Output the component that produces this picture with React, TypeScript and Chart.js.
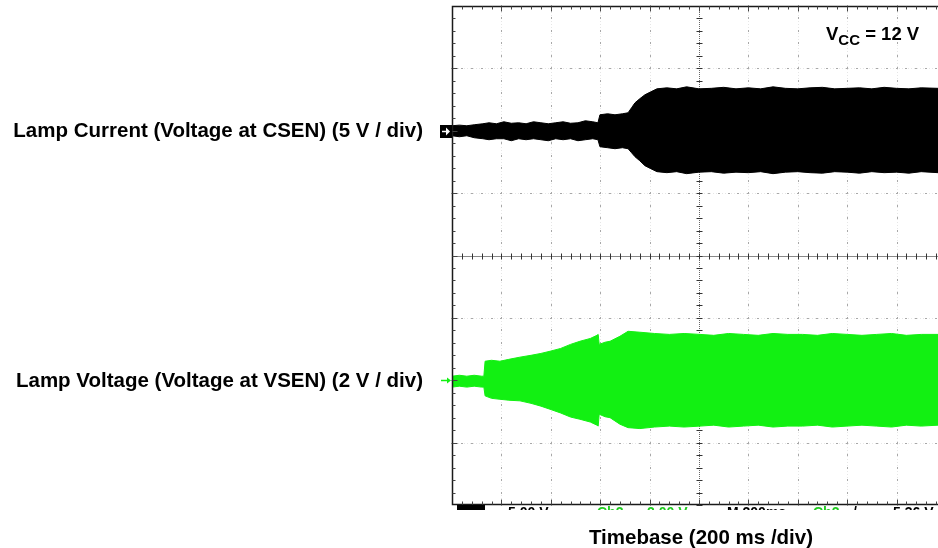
import React, { useEffect, useRef } from "react";
import { Chart, registerables } from "chart.js";

Chart.register(...registerables);

// ---- Data (time in ms, channel amplitudes in volts) ----
const X_MAX_MS = 1968; // visible part of the 2000 ms (10 div x 200 ms) screen
const MS_PER_DIV = 200;
const CH1_V_PER_DIV = 5;
const CH2_V_PER_DIV = 2;
const CH1_OFFSET_DIV = 2;
const CH2_OFFSET_DIV = -2;

const ch1Time = [
  0, 30, 60, 90, 125, 150, 180, 210, 240, 270, 300, 330, 360, 390, 420, 450, 480, 510, 540, 570,
  591, 599, 630, 660, 690, 713, 727, 741, 760, 781, 805, 830,
  870, 910, 950, 1000, 1050, 1100, 1150, 1200, 1250, 1300, 1350, 1400, 1450, 1500, 1550, 1600,
  1650, 1700, 1750, 1800, 1850, 1900, 1968,
];
const ch1Upper = [
  0.4, 0.45, 0.4, 0.48, 0.56, 0.64, 0.56, 0.72, 0.6, 0.64, 0.56, 0.72, 0.64, 0.56, 0.64, 0.72, 0.6, 0.64, 0.8, 0.72,
  0.64, 1.28, 1.36, 1.28, 1.36, 1.44, 1.84, 2.24, 2.56, 2.88, 3.12, 3.36,
  3.44, 3.36, 3.52, 3.36, 3.4, 3.48, 3.36, 3.44, 3.36, 3.52, 3.4, 3.36, 3.44, 3.48, 3.36, 3.4,
  3.44, 3.36, 3.48, 3.4, 3.36, 3.44, 3.4,
];
const ch1Lower = [
  -0.4, -0.48, -0.4, -0.56, -0.64, -0.72, -0.64, -0.64, -0.8, -0.64, -0.72, -0.64, -0.72, -0.8, -0.64, -0.72, -0.64, -0.8, -0.72, -0.64,
  -0.72, -1.28, -1.36, -1.44, -1.36, -1.44, -1.76, -2.08, -2.4, -2.8, -3.04, -3.28,
  -3.36, -3.28, -3.44, -3.32, -3.28, -3.4, -3.32, -3.36, -3.28, -3.44, -3.32, -3.28, -3.36, -3.4, -3.28, -3.32,
  -3.4, -3.28, -3.36, -3.32, -3.4, -3.28, -3.36,
];

const ch2Time = [
  0, 30, 60, 90, 120, 129, 134, 160, 194, 230, 275, 320, 360, 397, 440, 480, 518, 560, 587, 592,
  596, 620, 640, 680, 713, 761, 820, 880, 940, 1004, 1060, 1120, 1180, 1240, 1300, 1360, 1420, 1480,
  1540, 1600, 1660, 1720, 1780, 1840, 1900, 1968,
];
const ch2Upper = [
  0.13, 0.16, 0.13, 0.16, 0.13, 0.13, 0.61, 0.64, 0.61, 0.67, 0.74, 0.8, 0.86, 0.93, 1.02, 1.15, 1.25, 1.34, 1.44, 1.47,
  1.15, 1.22, 1.25, 1.41, 1.57, 1.54, 1.5, 1.47, 1.5, 1.47, 1.44, 1.5, 1.47, 1.44, 1.5, 1.47, 1.47, 1.44,
  1.5, 1.47, 1.44, 1.47, 1.5, 1.44, 1.47, 1.47,
];
const ch2Lower = [
  -0.22, -0.19, -0.22, -0.19, -0.22, -0.22, -0.5, -0.58, -0.61, -0.64, -0.66, -0.74, -0.83, -0.93, -1.05, -1.18, -1.25, -1.34, -1.44, -1.47,
  -1.09, -1.17, -1.2, -1.41, -1.52, -1.55, -1.5, -1.47, -1.5, -1.47, -1.44, -1.5, -1.47, -1.44, -1.5, -1.47, -1.47, -1.44,
  -1.5, -1.47, -1.44, -1.47, -1.5, -1.44, -1.47, -1.44,
];

const ch1Label = "Lamp Current (Voltage at CSEN) (5 V / div)";
const ch2Label = "Lamp Voltage (Voltage at VSEN) (2 V / div)";
const xLabel = "Timebase (200 ms /div)";
const vccMain = "V";
const vccSub = "CC";
const vccRest = " = 12 V";
const statusTexts = [
  { text: "5.00 V", color: "#000" },
  { text: "Ch2", color: "#2c2" },
  { text: "2.00 V", color: "#2c2" },
  { text: "M 200ms", color: "#000" },
  { text: "Ch2", color: "#2c2" },
  { text: "/", color: "#000" },
  { text: "5.36 V", color: "#000" },
];

const BLACK = "#000000";
const GREEN = "#12f012";
const FONT = '"Liberation Sans", Arial, Helvetica, sans-serif';

const toPts = (t: number[], v: number[], vpd: number, off: number) =>
  t.map((x, i) => ({ x, y: off + v[i] / vpd }));

const graticule = {
  id: "graticule",
  beforeDatasetsDraw(chart: any) {
    const { ctx, chartArea: a, scales } = chart;
    const xs = scales.x, ys = scales.y;
    const px = (d: number) => xs.getPixelForValue(d * MS_PER_DIV);
    const py = (d: number) => ys.getPixelForValue(d);
    ctx.save();
    // faint grid lines
    ctx.strokeStyle = "#e6e6e6";
    ctx.lineWidth = 1;
    ctx.setLineDash([1, 2]);
    for (let d = 1; d <= 9; d++) {
      if (d === 5) continue;
      const x = Math.round(px(d)) + 0.5;
      if (x > a.right) continue;
      ctx.beginPath(); ctx.moveTo(x, a.top); ctx.lineTo(x, a.bottom); ctx.stroke();
    }
    for (let d = -3; d <= 3; d++) {
      if (d === 0) continue;
      const y = Math.round(py(d)) + 0.5;
      ctx.beginPath(); ctx.moveTo(a.left, y); ctx.lineTo(a.right, y); ctx.stroke();
    }
    ctx.setLineDash([]);
    // dots on grid lines at every 1/5 division
    ctx.fillStyle = "#a8a8a8";
    for (let d = 1; d <= 9; d++) {
      if (d === 5) continue;
      const x = Math.round(px(d));
      for (let k = -20; k <= 20; k++) {
        const y = Math.round(py(k / 5));
        ctx.fillRect(x, y - 1, 1, 2);
      }
    }
    for (let d = -3; d <= 3; d++) {
      if (d === 0) continue;
      const y = Math.round(py(d));
      for (let k = 0; k <= 50; k++) {
        const x = Math.round(px(k / 5));
        if (x > a.right) continue;
        ctx.fillRect(x - 1, y, 2, 1);
      }
    }
    // center cross
    const cx = Math.round(px(5)) + 0.5;
    const cy = Math.round(py(0)) + 0.5;
    ctx.strokeStyle = "#666";
    ctx.setLineDash([1, 1]);
    ctx.beginPath(); ctx.moveTo(cx, a.top); ctx.lineTo(cx, a.bottom); ctx.stroke();
    ctx.strokeStyle = "#888";
    ctx.setLineDash([]);
    ctx.beginPath(); ctx.moveTo(a.left, cy); ctx.lineTo(a.right, cy); ctx.stroke();
    ctx.strokeStyle = "#333";
    for (let k = 0; k <= 50; k++) {
      const x = Math.round(px(k / 5)) + 0.5;
      if (x > a.right) continue;
      ctx.beginPath(); ctx.moveTo(x, cy - 3); ctx.lineTo(x, cy + 3); ctx.stroke();
    }
    for (let k = -20; k <= 20; k++) {
      const y = Math.round(py(k / 5)) + 0.5;
      ctx.beginPath(); ctx.moveTo(cx - 3, y); ctx.lineTo(cx + 3, y); ctx.stroke();
    }
    ctx.restore();
  },
  afterDatasetsDraw(chart: any) {
    const { ctx, chartArea: a, scales } = chart;
    const xs = scales.x, ys = scales.y;
    const px = (d: number) => xs.getPixelForValue(d * MS_PER_DIV);
    const py = (d: number) => ys.getPixelForValue(d);
    ctx.save();
    // border (left, top, bottom) with minor ticks
    ctx.strokeStyle = "#1a1a1a";
    ctx.lineWidth = 1.5;
    const L = Math.round(a.left) + 0.5, T = Math.round(a.top) + 0.5, B = Math.round(a.bottom) - 0.5;
    ctx.beginPath();
    ctx.moveTo(a.right + 1, T); ctx.lineTo(L, T); ctx.lineTo(L, B); ctx.lineTo(a.right + 1, B);
    ctx.stroke();
    ctx.lineWidth = 1;
    ctx.strokeStyle = "#444";
    for (let k = 1; k <= 50; k++) {
      const x = Math.round(px(k / 5)) + 0.5;
      if (x > a.right) continue;
      const len = k % 5 === 0 ? 5 : 3;
      ctx.beginPath(); ctx.moveTo(x, T); ctx.lineTo(x, T + len); ctx.stroke();
      ctx.beginPath(); ctx.moveTo(x, B); ctx.lineTo(x, B - len); ctx.stroke();
    }
    for (let k = -19; k <= 19; k++) {
      const y = Math.round(py(k / 5)) + 0.5;
      const len = k % 5 === 0 ? 5 : 3;
      ctx.beginPath(); ctx.moveTo(L, y); ctx.lineTo(L + len, y); ctx.stroke();
    }
    ctx.restore();
  },
  afterDraw(chart: any) {
    const { ctx, chartArea: a, scales } = chart;
    const ys = scales.y;
    const y1 = ys.getPixelForValue(CH1_OFFSET_DIV);
    const y2 = ys.getPixelForValue(CH2_OFFSET_DIV);
    ctx.save();
    // channel markers
    ctx.fillStyle = BLACK;
    ctx.fillRect(a.left - 12, Math.round(y1) - 6, 12, 13);
    ctx.strokeStyle = "#fff";
    ctx.fillStyle = "#fff";
    ctx.lineWidth = 1.5;
    ctx.beginPath(); ctx.moveTo(a.left - 10, Math.round(y1) + 0.5); ctx.lineTo(a.left - 4, Math.round(y1) + 0.5); ctx.stroke();
    ctx.beginPath(); ctx.moveTo(a.left - 2, Math.round(y1) + 0.5); ctx.lineTo(a.left - 6, Math.round(y1) - 3.5); ctx.lineTo(a.left - 6, Math.round(y1) + 4.5); ctx.closePath(); ctx.fill();
    ctx.strokeStyle = GREEN;
    ctx.fillStyle = GREEN;
    ctx.lineWidth = 1.5;
    ctx.beginPath(); ctx.moveTo(a.left - 11, Math.round(y2) + 0.5); ctx.lineTo(a.left - 3, Math.round(y2) + 0.5); ctx.stroke();
    ctx.beginPath(); ctx.moveTo(a.left - 1, Math.round(y2) + 0.5); ctx.lineTo(a.left - 5, Math.round(y2) - 2.5); ctx.lineTo(a.left - 5, Math.round(y2) + 3.5); ctx.closePath(); ctx.fill();

    // labels
    ctx.fillStyle = "#000";
    ctx.font = `bold 20.5px ${FONT}`;
    ctx.textAlign = "right";
    ctx.textBaseline = "middle";
    ctx.fillText(ch1Label, a.left - 29, y1 + 1);
    ctx.fillText(ch2Label, a.left - 29, y2 + 1);
    ctx.textAlign = "center";
    ctx.fillText(xLabel, 701, 538);

    // Vcc annotation
    ctx.textAlign = "left";
    ctx.textBaseline = "alphabetic";
    ctx.font = `bold 18.5px ${FONT}`;
    let x = 826;
    ctx.fillText(vccMain, x, 40);
    x += ctx.measureText(vccMain).width;
    ctx.font = `bold 15px ${FONT}`;
    ctx.fillText(vccSub, x, 45);
    x += ctx.measureText(vccSub).width;
    ctx.font = `bold 18.5px ${FONT}`;
    ctx.fillText(vccRest, x, 40);

    // clipped status line of the scope (only its top edge is visible)
    ctx.save();
    ctx.beginPath();
    ctx.rect(a.left, a.bottom, chart.width - a.left, 5);
    ctx.clip();
    ctx.fillStyle = "#000";
    ctx.fillRect(a.left + 5, a.bottom, 28, 6);
    ctx.font = `bold 14px ${FONT}`;
    const gap = [56, 145, 195, 275, 361, 401, 441];
    statusTexts.forEach((s, i) => {
      ctx.fillStyle = s.color;
      ctx.fillText(s.text, a.left + gap[i], a.bottom + 12);
    });
    ctx.restore();
    ctx.restore();
  },
};

export default function App() {
  const ref = useRef<HTMLCanvasElement>(null);
  useEffect(() => {
    const chart = new Chart(ref.current as HTMLCanvasElement, {
      type: "line",
      data: {
        datasets: [
          { data: toPts(ch1Time, ch1Upper, CH1_V_PER_DIV, CH1_OFFSET_DIV), borderColor: BLACK, backgroundColor: BLACK, fill: "+1" },
          { data: toPts(ch1Time, ch1Lower, CH1_V_PER_DIV, CH1_OFFSET_DIV), borderColor: BLACK, backgroundColor: BLACK, fill: false },
          { data: toPts(ch2Time, ch2Upper, CH2_V_PER_DIV, CH2_OFFSET_DIV), borderColor: GREEN, backgroundColor: GREEN, fill: "+1" },
          { data: toPts(ch2Time, ch2Lower, CH2_V_PER_DIV, CH2_OFFSET_DIV), borderColor: GREEN, backgroundColor: GREEN, fill: false },
        ],
      },
      options: {
        animation: false,
        responsive: false,
        devicePixelRatio: 1,
        layout: { padding: { left: 452, top: 6, right: 0, bottom: 43 } },
        plugins: { legend: { display: false }, tooltip: { enabled: false } },
        elements: { point: { radius: 0 }, line: { tension: 0, borderWidth: 1 } },
        scales: {
          x: { type: "linear", display: false, min: 0, max: X_MAX_MS },
          y: { type: "linear", display: false, min: -4, max: 4 },
        },
      },
      plugins: [graticule],
    });
    return () => chart.destroy();
  }, []);
  return (
    <div style={{ position: "absolute", left: 0, top: 0, width: 938, height: 548, background: "#fff" }}>
      <canvas ref={ref} width={938} height={548} style={{ display: "block", width: 938, height: 548 }} />
    </div>
  );
}
